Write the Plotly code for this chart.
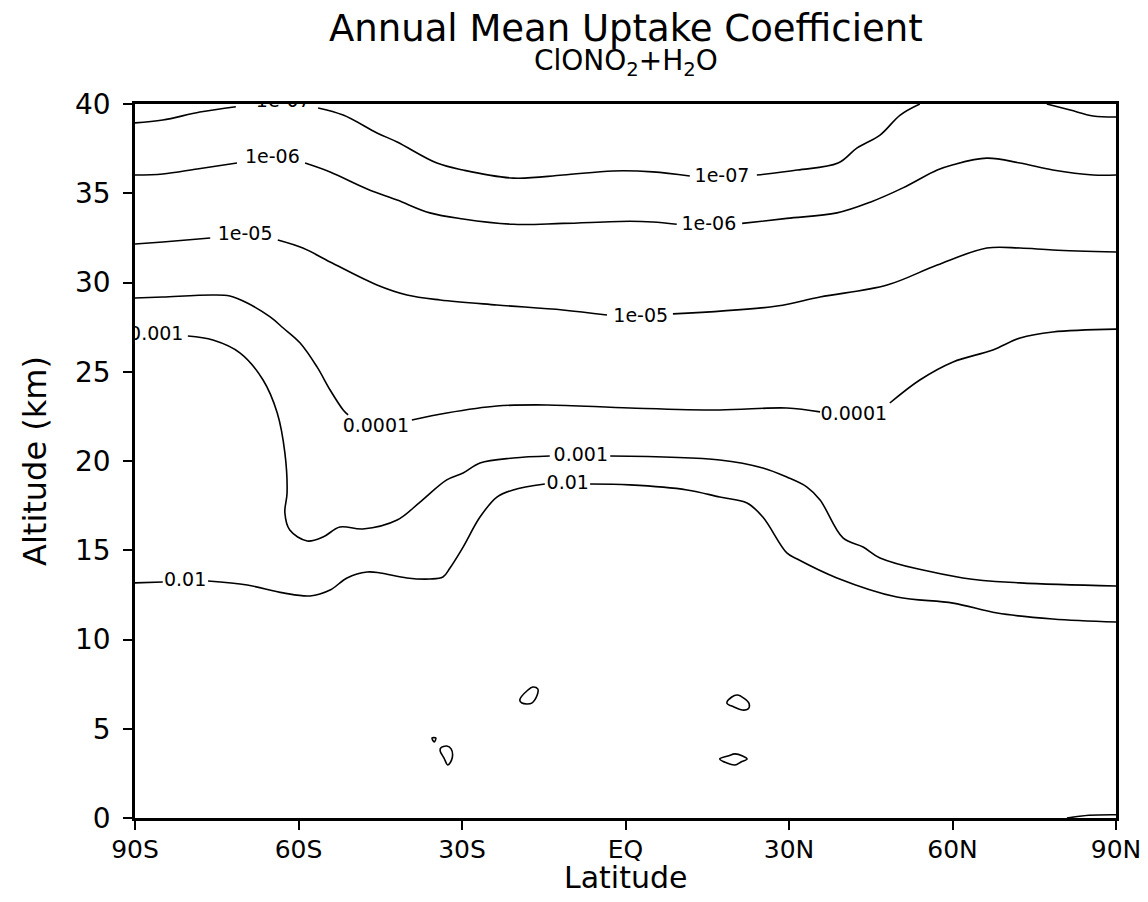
import plotly.graph_objects as go

# ---- axis ticks ----
lat_ticks = [-90, -60, -30, 0, 30, 60, 90]
lat_ticktext = ["90S", "60S", "30S", "EQ", "30N", "60N", "90N"]
alt_ticks = [0, 5, 10, 15, 20, 25, 30, 35, 40]

# ---- contour lines (latitude deg, altitude km); None = gap under a label ----
c_1e07_lat = [-90, -84.9, -78.1, -71.5, None,
              -56.4, -51.8, -45.6, -41.9, -34.6, -29.8, -20.6, -11.5, -2.3, 5.0, 11.8, None,
              24.1, 31.5, 39.0, 42.5, 46.7, 50.4, 54.0, None,
              77.3, 81.6, 85.8, 90]
c_1e07_alt = [38.94, 39.10, 39.55, 39.85, None,
              39.78, 39.38, 38.38, 37.87, 36.69, 36.30, 35.85, 36.02, 36.25, 36.20, 35.97, None,
              36.02, 36.30, 36.69, 37.54, 38.26, 39.38, 40.0, None,
              40.0, 39.66, 39.33, 39.27]

c_1e06_lat = [-90, -84.9, -78.6, -71.3, None,
              -58.8, -54.2, -47.4, -41.9, -35.9, -29.8, -20.6, -11.5, 0.8, 5.0, 9.4, None,
              21.4, 29.6, 38.8, 44.9, 50.9, 57.2, 60.1, 66.3, 72.4, 78.4, 85.8, 90]
c_1e06_alt = [36.02, 36.08, 36.36, 36.69, None,
              36.69, 36.19, 35.24, 34.62, 33.90, 33.56, 33.26, 33.31, 33.43, 33.39, 33.26, None,
              33.31, 33.59, 33.90, 34.50, 35.30, 36.30, 36.60, 36.97, 36.69, 36.30, 36.02, 36.02]

c_1e05_lat = [-90, -84.9, -76.2, None,
              -63.8, -59.2, -54.2, -45.6, -40.1, -34.0, -23.6, -11.5, -3.4, None,
              8.7, 27.8, 35.7, 48.0, 57.2, 66.3, 72.4, 78.4, 90]
c_1e05_alt = [32.16, 32.27, 32.49, None,
              32.38, 31.93, 31.15, 29.86, 29.30, 29.02, 28.74, 28.46, 28.18, None,
              28.24, 28.68, 29.19, 29.86, 30.98, 31.93, 31.93, 31.82, 31.71]

c_1e04_lat = [-90, -84.9, -75.7, -72.6, -69.4, -65.2, -62.8, -59.7, -56.6, -54.2, -51.8, -50.9, None,
              -39.2, -32.8, -23.6, -14.4, 0.8, 17.3, 29.6, 35.7, None,
              48.5, 54.0, 60.1, 67.4, 72.4, 78.4, 90]
c_1e04_alt = [29.13, 29.19, 29.30, 29.24, 28.85, 28.07, 27.45, 26.61, 25.27, 23.98, 22.86, 22.58, None,
              22.30, 22.69, 23.08, 23.14, 22.97, 22.86, 22.97, 22.75, None,
              23.25, 24.54, 25.55, 26.22, 26.89, 27.23, 27.39]

c_1e03_lat = [-80.3, -75.7, -70.7, -66.5, -63.9, -62.5, -62.1, -62.5, -61.6, -58.4, -55.5, -52.4,
              -48.2, -41.9, -37.7, -32.8, -29.8, -26.7, -20.6, -13.9, None,
              -2.8, 17.3, 25.2, 29.6, 33.3, 35.7, 39.9, 43.6, 46.7, 61.9, 72.4, 90]
c_1e03_alt = [27.0, 26.78, 26.05, 24.54, 22.69, 20.45, 18.21, 17.09, 16.13, 15.52, 15.74, 16.30,
              16.19, 16.69, 17.70, 18.94, 19.33, 19.89, 20.17, 20.28, None,
              20.28, 20.06, 19.61, 19.10, 18.54, 17.82, 15.69, 15.18, 14.57, 13.45, 13.17, 13.0]

c_1e02_lat = [-90, -84.9, None,
              -76.6, -69.4, -62.8, -57.9, -54.2, -51.1, -47.4, -45.0, -40.1, -35.9, -33.5, -32.2,
              -29.8, -26.7, -23.6, -20.6, -14.8, None,
              -6.5, 0.8, 11.3, 17.3, 22.3, 25.2, 29.6, 31.5, 38.8, 49.8, 60.1, 68.2, 78.4, 90]
c_1e02_alt = [13.17, 13.22, None,
              13.28, 13.05, 12.61, 12.44, 12.77, 13.45, 13.78, 13.73, 13.45, 13.39, 13.50, 14.01,
              15.18, 16.86, 17.98, 18.38, 18.71, None,
              18.71, 18.66, 18.38, 17.98, 17.65, 16.86, 14.85, 14.51, 13.45, 12.38, 12.04, 11.48, 11.15, 10.98]

# small closed contours in the troposphere
cells_lat = [-19.0, -19.4, -17.9, -17.0, -16.1, -16.2, -17.2, -18.1, -19.0, None,
             18.6, 19.5, 20.5, 21.9, 22.7, 22.5, 21.4, 19.9, 18.6, None,
             17.3, 18.8, 20.1, 21.5, 22.3, 21.2, 20.1, 18.6, 17.3, None,
             -35.5, -34.8, -35.1, -35.5, None,
             -33.9, -32.8, -32.0, -31.8, -32.6, -33.3, -34.0, -33.9, None,
             81.0, 85.0, 90.0]
cells_alt = [6.44, 6.61, 7.17, 7.34, 7.23, 6.89, 6.44, 6.39, 6.44, None,
             6.44, 6.78, 6.89, 6.67, 6.39, 6.11, 6.05, 6.22, 6.44, None,
             3.31, 3.47, 3.59, 3.47, 3.31, 3.14, 2.97, 3.08, 3.31, None,
             4.48, 4.48, 4.26, 4.48, None,
             3.92, 4.03, 3.87, 3.36, 2.97, 3.36, 3.75, 3.92, None,
             0.0, 0.15, 0.18]

# contour labels
label_text = ["1e-07", "1e-07", "1e-06", "1e-06", "1e-05", "1e-05",
              "0.0001", "0.0001", "0.001", "0.001", "0.01", "0.01"]
label_lat = [-62.8, 17.7, -64.8, 15.3, -69.8, 2.8, -45.8, 41.9, -86.1, -8.2, -80.8, -10.6]
label_alt = [40.1, 35.91, 36.97, 33.22, 32.66, 28.07, 21.9, 22.58, 27.06, 20.28, 13.28, 18.71]

FONT = "DejaVu Sans"
line_style = dict(color="black", width=1.6)

fig = go.Figure()
for name, xs, ys in [("1e-07", c_1e07_lat, c_1e07_alt), ("1e-06", c_1e06_lat, c_1e06_alt),
                     ("1e-05", c_1e05_lat, c_1e05_alt), ("0.0001", c_1e04_lat, c_1e04_alt),
                     ("0.001", c_1e03_lat, c_1e03_alt), ("0.01", c_1e02_lat, c_1e02_alt),
                     ("0.01 cells", cells_lat, cells_alt)]:
    fig.add_trace(go.Scatter(x=xs, y=ys, mode="lines", line=line_style, name=name,
                             line_shape="spline", connectgaps=False, hoverinfo="skip",
                             showlegend=False, cliponaxis=True))

fig.add_trace(go.Scatter(x=label_lat, y=label_alt, mode="text", text=label_text,
                         textposition="middle center",
                         textfont=dict(family=FONT, size=19, color="black"),
                         cliponaxis=True, showlegend=False, hoverinfo="skip"))

axis_common = dict(showline=True, linecolor="black", linewidth=2.5, mirror=True,
                   ticks="outside", ticklen=9, tickwidth=2, tickcolor="black",
                   showgrid=False, zeroline=False, ticklabeloverflow="allow",
                   automargin=False)

# page body has an 8px margin, so the figure is sized/offset to keep the plot box in place
fig.update_layout(
    width=1132, height=886,
    margin=dict(l=127, r=24, t=96, b=76, autoexpand=False),
    paper_bgcolor="white", plot_bgcolor="white",
    xaxis=dict(range=[-90, 90], tickvals=lat_ticks, ticktext=lat_ticktext,
               ticklabelstandoff=-2, tickfont=dict(family=FONT, size=25, color="black"),
               **axis_common),
    yaxis=dict(range=[0, 40], tickvals=alt_ticks, ticklabelstandoff=7,
               tickfont=dict(family=FONT, size=28, color="black"), **axis_common),
    annotations=[
        dict(text="Annual Mean Uptake Coefficient", xref="paper", yref="paper",
             x=0.5, y=1.1063, xanchor="center", yanchor="middle", showarrow=False,
             font=dict(family=FONT, size=37, color="black")),
        dict(text="ClONO<sub>2</sub>+H<sub>2</sub>O", xref="paper", yref="paper",
             x=0.5, y=1.0575, xanchor="center", yanchor="middle", showarrow=False,
             font=dict(family=FONT, size=28, color="black")),
        dict(text="Latitude", xref="paper", yref="paper",
             x=0.5, y=-0.084, xanchor="center", yanchor="middle", showarrow=False,
             font=dict(family=FONT, size=30, color="black")),
        dict(text="Altitude (km)", xref="paper", yref="paper", textangle=-90,
             x=-0.102, y=0.5, xanchor="center", yanchor="middle", showarrow=False,
             font=dict(family=FONT, size=32, color="black")),
    ],
)

fig.write_html("out.html")
